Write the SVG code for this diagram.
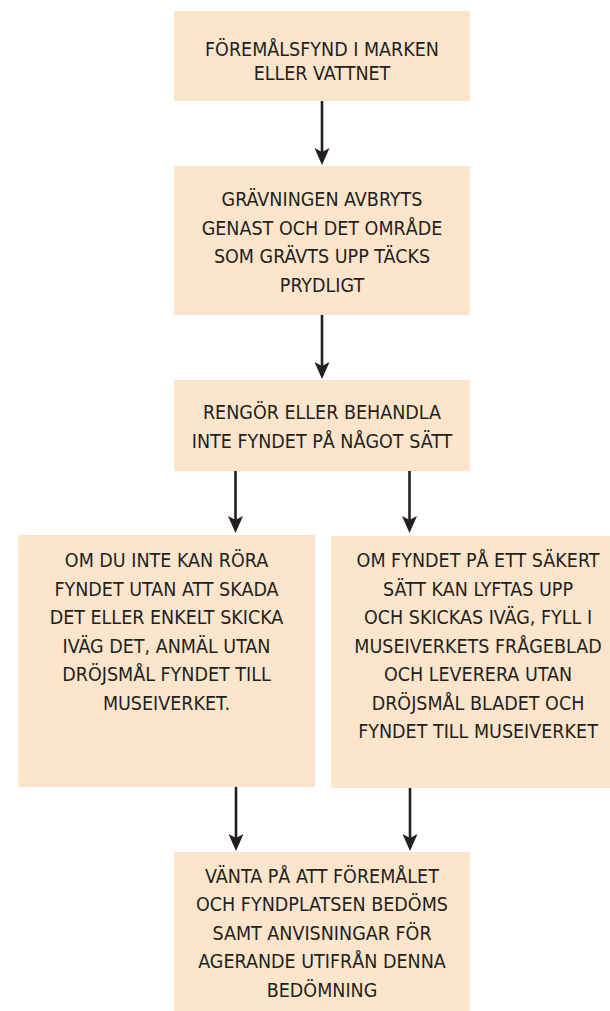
<svg xmlns="http://www.w3.org/2000/svg" width="610" height="1011" viewBox="0 0 610 1011">
<style>
.box{fill:#fde5cb;}
.t{font-family:"DejaVu Sans Condensed","DejaVu Sans",sans-serif;font-stretch:condensed;font-size:19.5px;fill:#231f20;text-anchor:middle;}
.c{stroke:#231f20;stroke-width:2.6;fill:none;}
</style>
<defs>
<marker id="ah" markerUnits="userSpaceOnUse" orient="auto" refX="0" refY="0" markerWidth="20" markerHeight="20" overflow="visible">
<path d="M9,0 L-8,-7.5 L-4,0 L-8,7.5 Z" fill="#231f20"/>
</marker>
</defs>
<rect width="610" height="1011" fill="#ffffff"/>
<g id="n1">
<rect class="box" x="174" y="11" width="296" height="90"/>
<text class="t" x="322" y="56">FÖREMÅLSFYND I MARKEN</text>
<text class="t" x="322" y="80">ELLER VATTNET</text>
</g>
<g id="n2">
<rect class="box" x="174" y="166" width="296" height="149"/>
<text class="t" x="322" y="206">GRÄVNINGEN AVBRYTS</text>
<text class="t" x="322" y="234.5">GENAST OCH DET OMRÅDE</text>
<text class="t" x="322" y="263">SOM GRÄVTS UPP TÄCKS</text>
<text class="t" x="322" y="291.5">PRYDLIGT</text>
</g>
<g id="n3">
<rect class="box" x="174" y="380" width="296" height="91"/>
<text class="t" x="322" y="419">RENGÖR ELLER BEHANDLA</text>
<text class="t" x="322" y="448">INTE FYNDET PÅ NÅGOT SÄTT</text>
</g>
<g id="n4">
<rect class="box" x="18" y="535" width="297" height="252"/>
<text class="t" x="166.5" y="567">OM DU INTE KAN RÖRA</text>
<text class="t" x="166.5" y="595.5">FYNDET UTAN ATT SKADA</text>
<text class="t" x="166.5" y="624">DET ELLER ENKELT SKICKA</text>
<text class="t" x="166.5" y="652.5">IVÄG DET, ANMÄL UTAN</text>
<text class="t" x="166.5" y="681">DRÖJSMÅL FYNDET TILL</text>
<text class="t" x="166.5" y="709.5">MUSEIVERKET.</text>
</g>
<g id="n5">
<rect class="box" x="331" y="536" width="296" height="252"/>
<text class="t" x="478" y="567">OM FYNDET PÅ ETT SÄKERT</text>
<text class="t" x="478" y="595.5">SÄTT KAN LYFTAS UPP</text>
<text class="t" x="478" y="624">OCH SKICKAS IVÄG, FYLL I</text>
<text class="t" x="478" y="652.5">MUSEIVERKETS FRÅGEBLAD</text>
<text class="t" x="478" y="681">OCH LEVERERA UTAN</text>
<text class="t" x="478" y="709.5">DRÖJSMÅL BLADET OCH</text>
<text class="t" x="478" y="738">FYNDET TILL MUSEIVERKET</text>
</g>
<g id="n6">
<rect class="box" x="174" y="852" width="296" height="159"/>
<text class="t" x="322" y="882.5">VÄNTA PÅ ATT FÖREMÅLET</text>
<text class="t" x="322" y="911">OCH FYNDPLATSEN BEDÖMS</text>
<text class="t" x="322" y="939.5">SAMT ANVISNINGAR FÖR</text>
<text class="t" x="322" y="968">AGERANDE UTIFRÅN DENNA</text>
<text class="t" x="322" y="996.5">BEDÖMNING</text>
</g>
<g id="connectors">
<line class="c" x1="322" y1="101" x2="322" y2="156" marker-end="url(#ah)"/>
<line class="c" x1="322" y1="315" x2="322" y2="370" marker-end="url(#ah)"/>
<line class="c" x1="235.5" y1="471" x2="235.5" y2="524" marker-end="url(#ah)"/>
<line class="c" x1="409.5" y1="471" x2="409.5" y2="524" marker-end="url(#ah)"/>
<line class="c" x1="236" y1="787" x2="236" y2="842" marker-end="url(#ah)"/>
<line class="c" x1="410" y1="788" x2="410" y2="842" marker-end="url(#ah)"/>
</g>
</svg>
